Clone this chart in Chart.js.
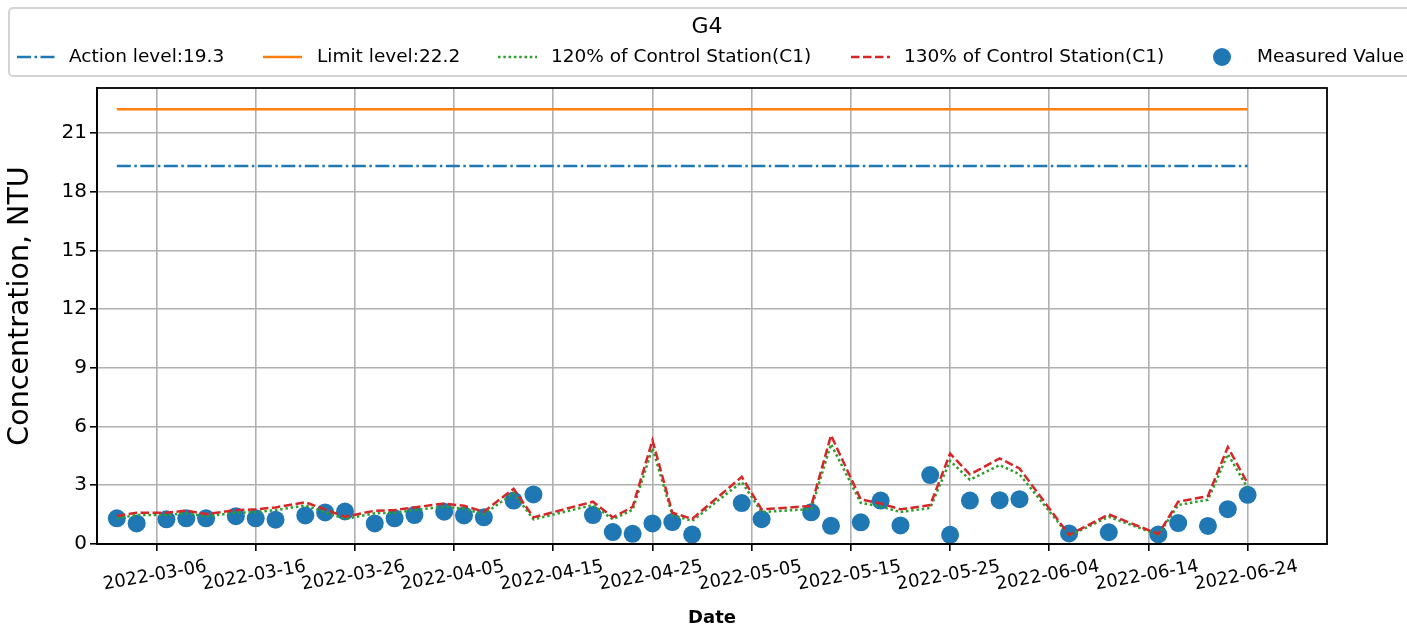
<!DOCTYPE html>
<html>
<head>
<meta charset="utf-8">
<script src="https://cdn.jsdelivr.net/npm/chart.js@4.4.0/dist/chart.umd.min.js"></script>
<style>
  html, body { margin: 0; padding: 0; background: #fff; }
  canvas { display: block; }
</style>
</head>
<body>
<canvas id="chart" width="1407" height="629"></canvas>
<script>
// Sample dates (shared by measured values and control station lines)
const SAMPLE_DATES = [
  '2022-03-02', '2022-03-04', '2022-03-07', '2022-03-09', '2022-03-11', '2022-03-14',
  '2022-03-16', '2022-03-18', '2022-03-21', '2022-03-23', '2022-03-25', '2022-03-28',
  '2022-03-30', '2022-04-01', '2022-04-04', '2022-04-06', '2022-04-08', '2022-04-11',
  '2022-04-13', '2022-04-19', '2022-04-21', '2022-04-23', '2022-04-25', '2022-04-27',
  '2022-04-29', '2022-05-04', '2022-05-06', '2022-05-11', '2022-05-13', '2022-05-16',
  '2022-05-18', '2022-05-20', '2022-05-23', '2022-05-25', '2022-05-27', '2022-05-30',
  '2022-06-01', '2022-06-06', '2022-06-10', '2022-06-15', '2022-06-17', '2022-06-20',
  '2022-06-22', '2022-06-24'
];

const MEASURED = [
  1.31, 1.05, 1.26, 1.31, 1.31, 1.42,
  1.31, 1.24, 1.46, 1.61, 1.66, 1.05,
  1.31, 1.48, 1.65, 1.46, 1.36, 2.22,
  2.53, 1.48, 0.61, 0.52, 1.05, 1.12,
  0.48, 2.09, 1.27, 1.62, 0.93, 1.11,
  2.22, 0.95, 3.52, 0.47, 2.22, 2.24,
  2.29, 0.54, 0.60, 0.49, 1.07, 0.92,
  1.78, 2.51
];

// 120% of Control Station (C1)
const C1_120 = [
  1.32, 1.48, 1.48, 1.57, 1.41, 1.60,
  1.63, 1.73, 1.97, 1.63, 1.28, 1.57,
  1.60, 1.73, 1.91, 1.80, 1.52, 2.60,
  1.26, 1.99, 1.26, 1.75, 4.90, 1.48,
  1.18, 3.17, 1.63, 1.79, 5.10, 2.10,
  1.91, 1.63, 1.84, 4.25, 3.28, 4.03,
  3.56, 0.42, 1.39, 0.47, 1.99, 2.26,
  4.59, 2.86
];

// 130% of Control Station (C1)
const C1_130 = [
  1.43, 1.60, 1.60, 1.70, 1.53, 1.73,
  1.77, 1.87, 2.13, 1.77, 1.39, 1.70,
  1.73, 1.87, 2.07, 1.95, 1.65, 2.82,
  1.36, 2.16, 1.36, 1.90, 5.30, 1.60,
  1.28, 3.43, 1.77, 1.94, 5.55, 2.28,
  2.07, 1.77, 1.99, 4.62, 3.55, 4.37,
  3.86, 0.46, 1.51, 0.51, 2.16, 2.45,
  4.95, 3.10
];

const ACTION_LEVEL = 19.3;
const LIMIT_LEVEL = 22.2;

const X_TICKS = [
  '2022-03-06', '2022-03-16', '2022-03-26', '2022-04-05', '2022-04-15', '2022-04-25',
  '2022-05-05', '2022-05-15', '2022-05-25', '2022-06-04', '2022-06-14', '2022-06-24'
];
const Y_TICKS = [0, 3, 6, 9, 12, 15, 18, 21];
const X_RANGE = ['2022-02-28', '2022-07-02'];
const Y_RANGE = [0, 23.29];

const FONT = "'DejaVu Sans', 'Liberation Sans', sans-serif";

// Line styles (matplotlib tab colours)
const DASH_ACTION = [14, 3.5, 2.5, 3.5];
const DASH_120 = [2.5, 2.8];
const DASH_130 = [8.5, 3.5];

// date string -> day number
function dayNum(s) {
  const [y, m, d] = s.split('-').map(Number);
  return Date.UTC(y, m - 1, d) / 86400000;
}

const xs = SAMPLE_DATES.map(dayNum);
const pts = vals => vals.map((v, i) => ({ x: xs[i], y: v }));
const flat = v => xs.map(x => ({ x, y: v }));

const LEGEND_ITEMS = [
  { label: 'Action level:19.3', color: '#1f77b4', dash: DASH_ACTION, lineX: 17, textX: 69 },
  { label: 'Limit level:22.2', color: '#ff7f0e', dash: [], lineX: 263, textX: 317 },
  { label: '120% of Control Station(C1)', color: '#2ca02c', dash: DASH_120, lineX: 498, textX: 551 },
  { label: '130% of Control Station(C1)', color: '#d62728', dash: DASH_130, lineX: 851, textX: 904 },
  { label: 'Measured Value', color: '#1f77b4', marker: true, lineX: 1202, textX: 1257 }
];

// Legend box with title, drawn above the plot
const legendPlugin = {
  id: 'mplLegend',
  afterDraw(chart) {
    const ctx = chart.ctx;
    ctx.save();
    ctx.strokeStyle = '#d4d4d4';
    ctx.lineWidth = 2;
    ctx.beginPath();
    ctx.roundRect(9, 8, 1420, 68, 4);
    ctx.stroke();

    ctx.fillStyle = '#000';
    ctx.font = '22px ' + FONT;
    ctx.textAlign = 'center';
    ctx.textBaseline = 'middle';
    ctx.fillText('G4', 707, 27);

    ctx.font = '18.5px ' + FONT;
    ctx.textAlign = 'left';
    LEGEND_ITEMS.forEach(it => {
      const y = 57;
      if (it.marker) {
        ctx.fillStyle = it.color;
        ctx.beginPath();
        ctx.arc(it.lineX + 20, y, 9, 0, Math.PI * 2);
        ctx.fill();
      } else {
        ctx.strokeStyle = it.color;
        ctx.lineWidth = 2.5;
        ctx.setLineDash(it.dash);
        ctx.beginPath();
        ctx.moveTo(it.lineX, y);
        ctx.lineTo(it.lineX + 39, y);
        ctx.stroke();
        ctx.setLineDash([]);
      }
      ctx.fillStyle = '#000';
      ctx.fillText(it.label, it.textX, y);
    });

    // y axis label
    ctx.save();
    ctx.translate(21, 306);
    ctx.rotate(-Math.PI / 2);
    ctx.textAlign = 'center';
    ctx.textBaseline = 'middle';
    ctx.font = '28.5px ' + FONT;
    ctx.fillStyle = '#000';
    ctx.fillText('Concentration, NTU', 0, 0);
    ctx.restore();

    ctx.restore();
  }
};

// top and right spines
const framePlugin = {
  id: 'frame',
  afterDraw(chart) {
    const { ctx, chartArea: a } = chart;
    ctx.save();
    ctx.strokeStyle = '#000';
    ctx.lineWidth = 1.8;
    ctx.strokeRect(a.left, a.top, a.right - a.left, a.bottom - a.top);
    ctx.restore();
  }
};

const lineBase = { pointRadius: 0, borderWidth: 2.5, fill: false, tension: 0 };

new Chart(document.getElementById('chart'), {
  type: 'line',
  data: {
    datasets: [
      { ...lineBase, label: 'Action level:19.3', data: flat(ACTION_LEVEL), borderColor: '#1f77b4', borderDash: DASH_ACTION, order: 4 },
      { ...lineBase, label: 'Limit level:22.2', data: flat(LIMIT_LEVEL), borderColor: '#ff7f0e', order: 3 },
      { ...lineBase, label: '120% of Control Station(C1)', data: pts(C1_120), borderColor: '#2ca02c', borderDash: DASH_120, order: 2 },
      { ...lineBase, label: '130% of Control Station(C1)', data: pts(C1_130), borderColor: '#d62728', borderDash: DASH_130, order: 1 },
      { type: 'scatter', label: 'Measured Value', data: pts(MEASURED), backgroundColor: '#1f77b4', borderWidth: 0, pointRadius: 9, showLine: false, order: 5 }
    ]
  },
  options: {
    responsive: false,
    animation: false,
    devicePixelRatio: 1,
    layout: { padding: { top: 88, right: 80, bottom: 0, left: 0 } },
    plugins: { legend: { display: false }, tooltip: { enabled: false } },
    scales: {
      x: {
        type: 'linear',
        min: dayNum(X_RANGE[0]),
        max: dayNum(X_RANGE[1]),
        afterBuildTicks: s => { s.ticks = X_TICKS.map(t => ({ value: dayNum(t) })); },
        afterFit: s => { s.height = 85; },
        ticks: {
          autoSkip: false,
          minRotation: 10,
          maxRotation: 10,
          labelOffset: 50,
          padding: 5,
          color: '#000',
          font: { family: FONT, size: 18 },
          callback: (v, i) => X_TICKS[i]
        },
        grid: { color: '#b0b0b0', lineWidth: 1.6, tickColor: '#000', tickLength: 7, tickWidth: 1.6 },
        border: { display: true, color: '#000', width: 1.8 },
        title: { display: true, text: 'Date', color: '#000', font: { family: FONT, size: 18, weight: 'bold' }, padding: { top: 0, bottom: 0 } }
      },
      y: {
        min: Y_RANGE[0],
        max: Y_RANGE[1],
        afterBuildTicks: s => { s.ticks = Y_TICKS.map(v => ({ value: v })); },
        afterFit: s => { s.width = 97; },
        ticks: {
          padding: 3,
          color: '#000',
          font: { family: FONT, size: 20 },
          callback: v => String(v)
        },
        grid: { color: '#b0b0b0', lineWidth: 1.6, tickColor: '#000', tickLength: 7, tickWidth: 1.6 },
        border: { display: true, color: '#000', width: 1.8 }
      }
    }
  },
  plugins: [legendPlugin, framePlugin]
});
</script>
</body>
</html>
